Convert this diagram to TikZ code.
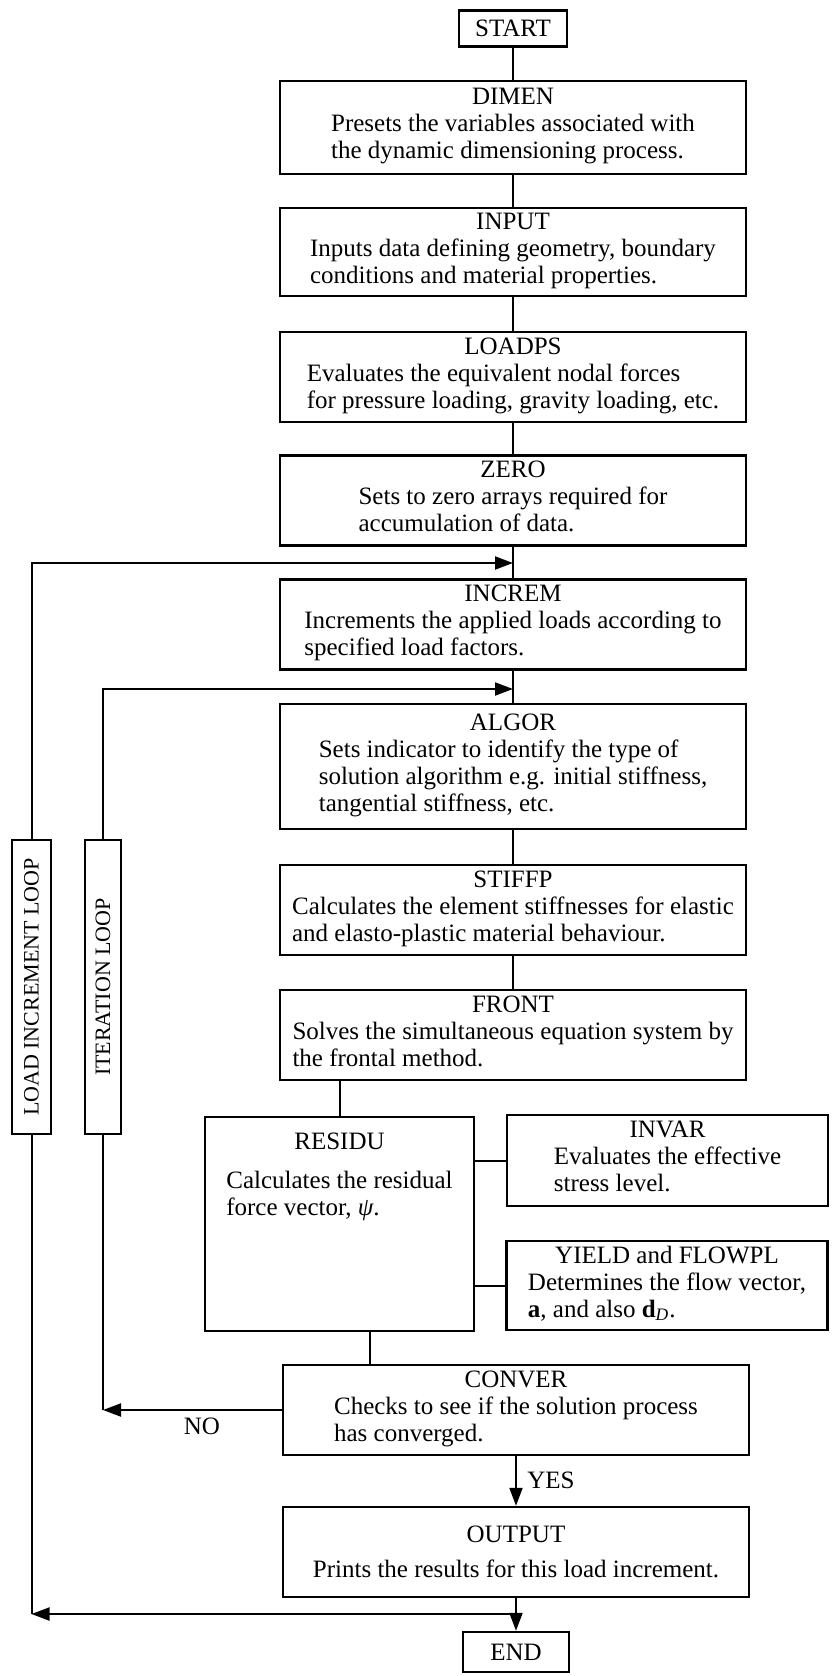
\documentclass[tikz,border=0pt]{standalone}
\usepackage{fontspec}
\setmainfont{Liberation Serif}
\usepackage{tikz}
\usetikzlibrary{arrows.meta}

\tikzset{
  stage/.style={draw=black,line width=1.2pt,inner sep=0pt,align=center,
    font=\fontsize{12.5}{13.5}\selectfont},
  mainbox/.style={stage,minimum width=233pt,minimum height=45pt},
  loopbox/.style={stage,minimum height=147pt,font=\fontsize{11}{13}\selectfont},
  tag/.style={inner sep=0pt,font=\fontsize{12.5}{13.5}\selectfont},
  flow/.style={black,line width=1pt},
}
\newcommand{\stagetext}[2]{#1\\\begin{tabular}[t]{@{}l@{}}#2\end{tabular}}

\begin{document}
\begin{tikzpicture}[x=0.5pt,y=-0.5pt]
\begin{scope}[>={Triangle[length=9pt,width=6.5pt]}]
\useasboundingbox (0,0) rectangle (831,1676);

    \node[stage,minimum width=54pt,minimum height=18pt] (start) at (513,28.5) {START};

    \node[mainbox,minimum height=46.5pt] (dimen) at (513,127.5)
        {\stagetext{DIMEN}{Presets the variables associated with\\the dynamic dimensioning process.}};
    \node[mainbox,minimum height=44pt] (input) at (513,252)
        {\stagetext{INPUT}{Inputs data defining geometry, boundary\\conditions and material properties.}};
    \node[mainbox] (loadps) at (513,377)
        {\stagetext{LOADPS}{Evaluates the equivalent nodal forces\\for pressure loading, gravity loading, etc.}};
    \node[mainbox] (zero) at (513,500.5)
        {\stagetext{ZERO}{Sets to zero arrays required for\\accumulation of data.}};
    \node[mainbox] (increm) at (513,624.5)
        {\stagetext{INCREM}{Increments the applied loads according to\\specified load factors.}};
    \node[mainbox,minimum height=62.5pt] (algor) at (513,766.5)
        {\stagetext{ALGOR}{Sets indicator to identify the type of\\solution algorithm e.g. initial stiffness,\\tangential stiffness, etc.}};
    \node[mainbox] (stiffp) at (513,910)
        {\stagetext{STIFFP}{Calculates the element stiffnesses for elastic\\and elasto-plastic material behaviour.}};
    \node[mainbox] (front) at (513,1035)
        {\stagetext{FRONT}{Solves the simultaneous equation system by\\the frontal method.}};

    \node[stage,minimum width=134.5pt,minimum height=107pt] (residu) at (339.5,1224) {};
    \node[tag,anchor=north,align=center,yshift=-8.5pt] (residutext) at (residu.north)
        {RESIDU\\[6pt]\begin{tabular}[t]{@{}l@{}}Calculates the residual\\force vector, {\itshape ψ}.\end{tabular}};
    \node[stage,minimum width=160.5pt,minimum height=45.5pt] (invar) at (667.5,1160.5)
        {\stagetext{INVAR}{Evaluates the effective\\stress level.}};
    \node[stage,minimum width=160.5pt,minimum height=44.5pt] (yield) at (667,1285.5)
        {\stagetext{YIELD and FLOWPL}{Determines the flow vector,\\\textbf{a}, and also \textbf{d}\textsubscript{\itshape D}.}};

    \node[mainbox] (conver) at (516,1410)
        {\stagetext{CONVER}{Checks to see if the solution process\\has converged.}};
    \node[mainbox] (output) at (516,1552)
        {OUTPUT\\[4pt]Prints the results for this load increment.};
    \node[stage,minimum width=53pt,minimum height=20pt] (end) at (516,1652) {END};

    \node[loopbox,minimum width=19.5pt] (loadloop) at (31.5,987) {\rotatebox{90}{LOAD INCREMENT LOOP}};
    \node[loopbox,minimum width=18pt] (iterloop) at (103,987) {\rotatebox{90}{ITERATION LOOP}};

    \node[tag] (no) at (202,1426) {NO};
    \node[tag] (yes) at (551,1480) {YES};

    \draw[flow] (start) -- (dimen);
    \draw[flow] (dimen) -- (input);
    \draw[flow] (input) -- (loadps);
    \draw[flow] (loadps) -- (zero);
    \draw[flow] (zero) -- (increm);
    \draw[flow] (increm) -- (algor);
    \draw[flow] (algor) -- (stiffp);
    \draw[flow] (stiffp) -- (front);

    \draw[flow] (residu.north) -- (residu.north |- front.south);
    \draw[flow] (invar.west) -- (invar.west -| residu.east);
    \draw[flow] (yield.west) -- (yield.west -| residu.east);
    \coordinate (resout) at (370,1331);
    \draw[flow] (resout |- residu.south) -- (resout |- conver.north);

    \coordinate (loadin) at (513,563);
    \coordinate (iterin) at (513,689);
    \draw[flow,->] (loadloop.north) |- (loadin);
    \draw[flow,->] (iterloop.north) |- (iterin);

    \draw[flow,->] (conver.west) -- (conver.west -| iterloop.south);
    \draw[flow] (iterloop.south) -- (iterloop.south |- conver.west);
    \draw[flow,->] (conver) -- (output);

    \coordinate (outjoin) at (516,1614);
    \draw[flow] (output) -- (outjoin);
    \draw[flow,->] (outjoin) -- (end);
    \draw[flow,->] (outjoin) -- (outjoin -| loadloop.south);
    \draw[flow] (loadloop.south) -- (loadloop.south |- outjoin);

\end{scope}
\end{tikzpicture}
\end{document}
